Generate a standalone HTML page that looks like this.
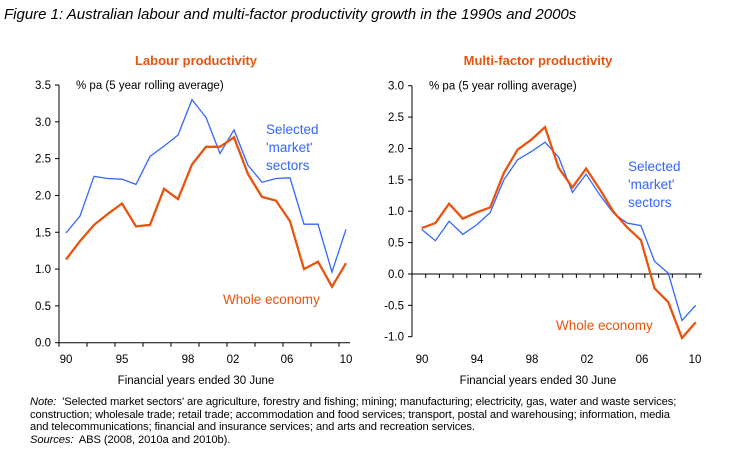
<!DOCTYPE html>
<html><head><meta charset="utf-8"><style>
body{margin:0;background:#fff;width:734px;height:455px;overflow:hidden;font-family:"Liberation Sans",sans-serif}
svg text{font-family:"Liberation Sans",sans-serif}
.note{position:absolute;left:30px;top:396px;font-size:11.2px;line-height:12.6px;color:#000;width:720px;letter-spacing:-0.1px;white-space:nowrap}
</style></head><body>
<div style="position:absolute;left:4px;top:6px;font-size:15px;font-style:italic">Figure 1: Australian labour and multi-factor productivity growth in the 1990s and 2000s</div>
<svg id="c" width="734" height="455" style="position:absolute;left:0;top:0"></svg>
<div class="note"><i>Note:</i>&nbsp; 'Selected market sectors' are agriculture, forestry and fishing; mining; manufacturing; electricity, gas, water and waste services;<br>construction; wholesale trade; retail trade; accommodation and food services; transport, postal and warehousing; information, media<br>and telecommunications; financial and insurance services; and arts and recreation services.<br><i>Sources:</i>&nbsp; ABS (2008, 2010a and 2010b).</div>
<script>
const years=[1990,1991,1992,1993,1994,1995,1996,1997,1998,1999,2000,2001,2002,2003,2004,2005,2006,2007,2008,2009,2010];
const labMarket=[1.49,1.72,2.26,2.23,2.22,2.15,2.53,2.67,2.82,3.3,3.06,2.57,2.89,2.41,2.18,2.23,2.24,1.61,1.61,0.96,1.54];
const labWhole=[1.13,1.38,1.6,1.75,1.89,1.58,1.6,2.09,1.95,2.42,2.66,2.66,2.79,2.29,1.98,1.93,1.65,1.0,1.1,0.76,1.08];
const mfpMarket=[0.71,0.53,0.84,0.63,0.78,0.98,1.5,1.82,1.95,2.1,1.86,1.3,1.59,1.26,0.97,0.81,0.77,0.2,0.01,-0.74,-0.5];
const mfpWhole=[0.73,0.81,1.12,0.88,0.98,1.06,1.61,1.98,2.14,2.34,1.69,1.38,1.68,1.35,0.99,0.74,0.54,-0.23,-0.45,-1.02,-0.77];
const leftTicks=["0.0","0.5","1.0","1.5","2.0","2.5","3.0","3.5"];
const rightTicks=["-1.0","-0.5","0.0","0.5","1.0","1.5","2.0","2.5","3.0"];
const leftXLabels=["90","95","98","02","06","10"];
const rightXLabels=["90","94","98","02","06","10"];
const svg=document.getElementById('c');
const NS='http://www.w3.org/2000/svg';
function mk(t,a,txt){const e=document.createElementNS(NS,t);for(const k in a)e.setAttribute(k,a[k]);if(txt!=null)e.textContent=txt;svg.appendChild(e);return e;}
function chart(o){
  const X=i=>o.x0+(o.x1-o.x0)*i/(years.length-1);
  const Y=v=>o.yb+(o.yt-o.yb)*(v-o.vmin)/(o.vmax-o.vmin);
  let t=mk('text',{x:o.cx,y:65,'text-anchor':'middle','font-size':13,'font-weight':'bold',fill:'#e8540e'},o.title);
  
  let ax=mk('line',{x1:o.ax,x2:o.ax,y1:Y(o.vmax),y2:Y(o.vmin),stroke:'#000','stroke-width':1});
  
  o.ticks.forEach(s=>{const v=parseFloat(s);const y=Y(v);
    mk('line',{x1:o.ax-4,x2:o.ax,y1:y,y2:y,stroke:'#000'});
    let l=mk('text',{x:o.ax-8,y:y+4,'text-anchor':'end','font-size':11.5},s);
    });
  const y0=Y(o.xAxisAt);
  let xa=mk('line',{x1:o.ax,x2:o.axEnd,y1:y0,y2:y0,stroke:'#000'});
  
  for(let x=o.ax;x<=o.axEnd+1;x+=o.tickStep)mk('line',{x1:x,x2:x,y1:y0,y2:y0+4,stroke:'#000'});
  o.xl.forEach((s,i)=>{let l=mk('text',{x:o.xlPos[i],y:363,'text-anchor':'middle','font-size':11.5},s);
    });
  let xt=mk('text',{x:o.cx,y:384,'text-anchor':'middle','font-size':11.5},'Financial years ended 30 June');
  
  let u=mk('text',{x:o.ax+17,y:Y(o.vmax)+4,'font-size':11.5},'% pa (5 year rolling average)');
  
  const pts=a=>a.map((v,i)=>X(i).toFixed(1)+','+Y(v).toFixed(1)).join(' ');
  let b=mk('polyline',{points:pts(o.market),fill:'none',stroke:'#3366ff','stroke-width':1.3});
  
  let r=mk('polyline',{points:pts(o.whole),fill:'none',stroke:'#e8540e','stroke-width':2.3});
  
  ['Selected',"'market'",'sectors'].forEach((s,i)=>{let l=mk('text',{x:o.lbx,y:o.lby+i*18,'font-size':13.5,fill:'#3366ff'},s);
    });
  let w=mk('text',{x:o.lwx,y:o.lwy,'font-size':13.5,fill:'#e8540e'},'Whole economy');
  
}
chart({id:'labour',title:'Labour productivity',cx:196,x0:66,x1:346,ax:59,axEnd:350,tickStep:28,yb:342.7,yt:85,vmin:0,vmax:3.5,xAxisAt:0,
  ticks:leftTicks,xl:leftXLabels,xlPos:[66,122,188,233,287,346],market:labMarket,whole:labWhole,lbx:266,lby:134,lwx:223,lwy:304});
chart({id:'mfp',title:'Multi-factor productivity',cx:538,x0:421.7,x1:695.7,ax:412,axEnd:702,tickStep:13.7,yb:336.7,yt:85.7,vmin:-1,vmax:3,xAxisAt:0,
  ticks:rightTicks,xl:rightXLabels,xlPos:[422,477,532,587,642,695],market:mfpMarket,whole:mfpWhole,lbx:628,lby:171,lwx:556,lwy:330});
</script>
</body></html>
